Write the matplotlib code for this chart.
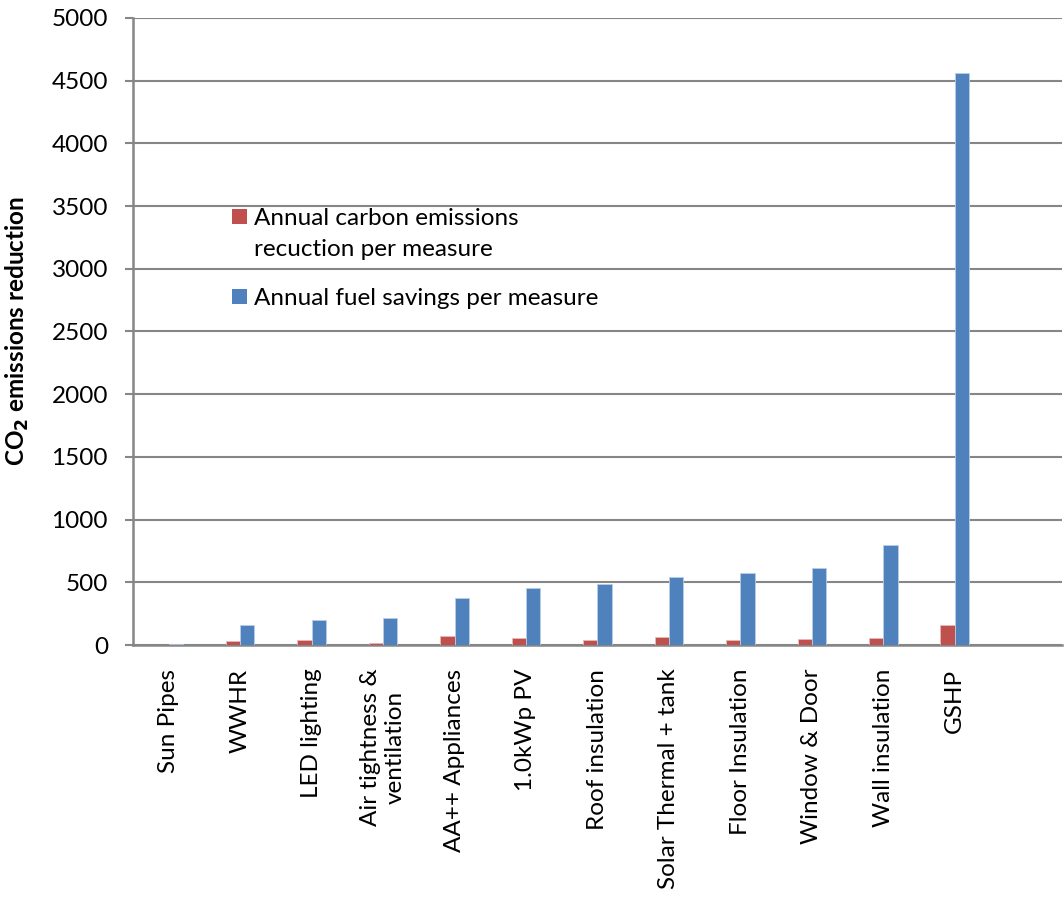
import matplotlib
matplotlib.use("Agg")
import matplotlib.pyplot as plt
import numpy as np
from matplotlib.patches import Rectangle

categories = ["Sun Pipes", "WWHR", "LED lighting", "Air tightness &\nventilation",
              "AA++ Appliances", "1.0kWp PV", "Roof insulation", "Solar Thermal + tank",
              "Floor Insulation", "Window & Door", "Wall insulation", "GSHP"]
carbon = [2, 29, 37, 13, 69, 53, 37, 63, 42, 45, 56, 156]
fuel = [12, 156, 198, 212, 378, 455, 484, 545, 571, 611, 800, 4558]
yticks = [0, 500, 1000, 1500, 2000, 2500, 3000, 3500, 4000, 4500, 5000]
legend_lines = [["Annual carbon emissions", "recuction per measure"],
                ["Annual fuel savings per measure"]]

plt.rcParams['font.family'] = ['Lato', 'DejaVu Sans']
FS = 17.5
W, H = 1064, 898

fig = plt.figure(figsize=(W / 100, H / 100), dpi=100)
ax = fig.add_axes([0.125, 0.2817, 0.873, 0.6983])

red = "#C0504D"
blue = "#4F81BD"
x = np.arange(len(categories))
w = 0.2
ax.bar(x - w / 2, carbon, w, color=red, edgecolor="#E6B9B8", linewidth=0.6, zorder=3)
ax.bar(x + w / 2, fuel, w, color=blue, edgecolor="#B9CDE5", linewidth=0.6, zorder=3)

ax.set_xlim(-0.5, len(categories) + 0.5)
ax.set_ylim(0, 5000)
ax.set_yticks(yticks)
ax.set_yticklabels([str(v) for v in yticks], fontsize=FS)
ax.set_xticks(x)
ax.set_xticklabels(categories, rotation=90, fontsize=FS, va="top", ha="center",
                   multialignment="center")
ax.tick_params(axis="x", length=0, pad=17)
ax.tick_params(axis="y", length=6, width=1.5, color="#868686", pad=12)

ax.grid(axis="y", color="#868686", linewidth=1.5, zorder=0)
for s in ["top", "right"]:
    ax.spines[s].set_visible(False)
for s in ["left", "bottom"]:
    ax.spines[s].set_color("#868686")
    ax.spines[s].set_linewidth(1.8)

ax.set_ylabel(r"CO$_\mathbf{2}$ emissions reduction", fontsize=FS, fontweight="bold")
ax.yaxis.set_label_coords((31 - 133) / 929, 0.5)

# legend drawn manually (marker aligned with first line, as in the reference)
entries = [(red, 209, [225, 256]), (blue, 289, [305])]
for (col, sq_top, baselines), lines in zip(entries, legend_lines):
    fig.add_artist(Rectangle((232 / W, 1 - (sq_top + 15) / H), 15 / W, 15 / H,
                             transform=fig.transFigure, facecolor=col, edgecolor="none"))
    for txt, b in zip(lines, baselines):
        fig.text(254 / W, 1 - b / H, txt, fontsize=FS, ha="left", va="baseline")

fig.savefig("out.png", dpi=100, facecolor="white")
